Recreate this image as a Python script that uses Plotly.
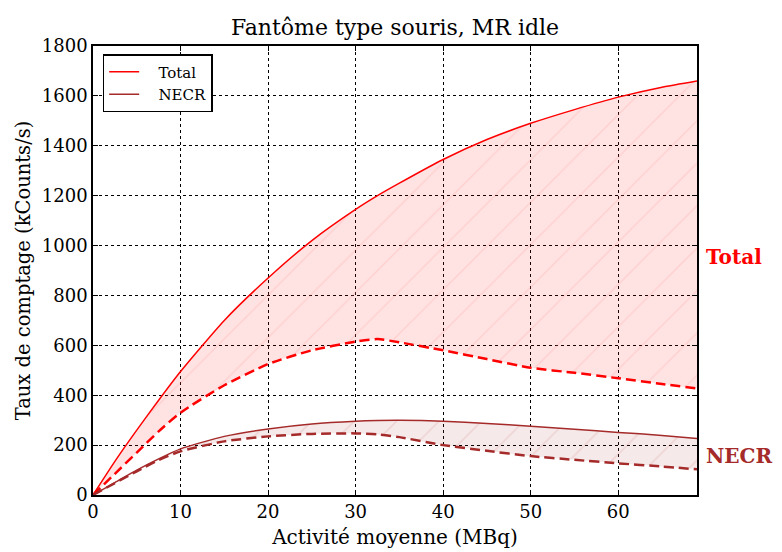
import plotly.graph_objects as go

activity = [0, 2.5, 5, 7.5, 10, 15, 20, 25, 30, 32.5, 35, 40, 45, 50, 55, 60, 65, 69]
total_solid = [0, 135, 260, 380, 495, 700, 870, 1020, 1145, 1200, 1250, 1345, 1425, 1490, 1545, 1595, 1635, 1660]
total_dashed = [0, 85, 170, 255, 330, 440, 525, 580, 615, 625, 612, 580, 545, 510, 490, 468, 445, 427]
necr_solid = [0, 50, 100, 145, 185, 235, 265, 285, 296, 299, 300, 296, 287, 276, 264, 251, 239, 227]
necr_dashed = [0, 48, 95, 140, 175, 215, 235, 245, 247, 243, 232, 200, 177, 156, 141, 127, 114, 103]
series_names = ["Total", "NECR"]

RED = "#ff0000"
BROWN = "#a52a2a"
FONT = "DejaVu Serif"
NB = "\u00a0"

fig = go.Figure()

# Total band
fig.add_trace(go.Scatter(x=activity, y=total_dashed, mode="lines",
                         line=dict(color=RED, width=2.5, dash="10px,5px", shape="spline", smoothing=0.6),
                         showlegend=False))
fig.add_trace(go.Scatter(x=activity, y=total_solid, mode="lines", showlegend=False,
                         line=dict(color=RED, width=1.5, shape="spline", smoothing=0.6), fill="tonexty",
                         fillcolor="rgba(255,0,0,0.11)",
                         fillpattern=dict(shape="/", fgcolor="rgba(255,140,140,0.45)",
                                          bgcolor="rgba(255,0,0,0.11)", size=30, solidity=0.05)))
# NECR band
fig.add_trace(go.Scatter(x=activity, y=necr_dashed, mode="lines",
                         line=dict(color=BROWN, width=2.5, dash="10px,5px", shape="spline", smoothing=0.6),
                         showlegend=False))
fig.add_trace(go.Scatter(x=activity, y=necr_solid, mode="lines", showlegend=False,
                         line=dict(color=BROWN, width=1.5, shape="spline", smoothing=0.6), fill="tonexty",
                         fillcolor="rgba(165,42,42,0.1)",
                         fillpattern=dict(shape="/", fgcolor="rgba(165,42,42,0.25)",
                                          bgcolor="rgba(165,42,42,0.1)", size=30, solidity=0.05)))
# legend entries (lines only)
fig.add_trace(go.Scatter(x=[None], y=[None], mode="lines", name=NB * 3 + series_names[0],
                         line=dict(color=RED, width=1.5)))
fig.add_trace(go.Scatter(x=[None], y=[None], mode="lines", name=NB * 3 + series_names[1],
                         line=dict(color=BROWN, width=1.5)))

axis_common = dict(showline=True, linecolor="black", linewidth=1.5, mirror="allticks",
                   ticks="inside", ticklen=5, tickcolor="black", automargin=False,
                   showgrid=True, gridcolor="black", griddash="dot", gridwidth=1,
                   zeroline=False, tickfont=dict(family=FONT, size=18, color="black"))

fig.update_xaxes(range=[0, 69], tickvals=[0, 10, 20, 30, 40, 50, 60],
                 title=dict(text="Activité moyenne (MBq)", font=dict(family=FONT, size=20, color="black"), standoff=9),
                 **axis_common)
fig.update_yaxes(range=[0, 1800], dtick=200,
                 title=dict(text="Taux de comptage (kCounts/s)", font=dict(family=FONT, size=19.5, color="black"), standoff=6),
                 **axis_common)

fig.add_annotation(x=1.012, y=955, xref="paper", yref="y", text="<b>" + series_names[0] + "</b>", showarrow=False,
                   xanchor="left", font=dict(family=FONT, size=20, color=RED))
fig.add_annotation(x=1.012, y=155, xref="paper", yref="y", text="<b>" + series_names[1] + "</b>", showarrow=False,
                   xanchor="left", font=dict(family=FONT, size=20, color=BROWN))

fig.update_layout(
    width=782, height=552,
    margin=dict(l=93, r=85, t=46, b=57),
    paper_bgcolor="white", plot_bgcolor="white",
    title=dict(text="Fantôme type souris, MR idle", x=0.5, xref="paper", xanchor="center",
               y=0.951, yanchor="middle", font=dict(family=FONT, size=22, color="black")),
    legend=dict(x=0.016, y=0.982, xanchor="left", yanchor="top", bordercolor="black", borderwidth=1.5,
                bgcolor="white", font=dict(family=FONT, size=15, color="black"),
                traceorder="normal", tracegroupgap=0),
    showlegend=True,
)

fig.write_html("out.html", config={"displayModeBar": False},
               post_script="document.body.style.margin='0';")
